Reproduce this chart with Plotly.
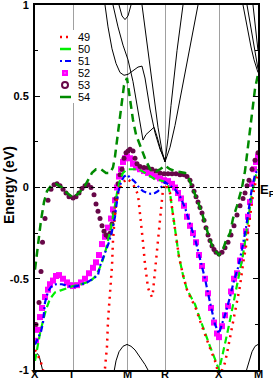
import plotly.graph_objects as go

# ---------------- data ----------------
kpath_pos = [0, 38, 92, 130, 184, 223]
kpath_labels = ["X", "Γ", "M", "R", "X", "M"]
ytick_vals = [-1, -0.5, 0, 0.5, 1]
ytick_text = ["-1", "-0.5", "0", "0.5", "1"]

# band 49 (red dotted)
b49_k = [0, 3, 6, 9, None,
         69, 70, 72, 73, 75, 77, 78, 80, 82, 84, 87, 92,
         96, 100, 103, 105, 107, 108, 110, 112, 113, 115, 117, 118, 119, 121, 123, 125, 127, 128, 130,
         135, 138, 141, 144, 148, 152, 156, 160, 165, 170, 175, 180, 184,
         187, 190, 193, 196, 199, 202, 205, 208, 212, 215, 218, 221, 223]
b49_e = [-0.89, -0.92, -0.96, -1.02, None,
         -1.03, -0.99, -0.87, -0.73, -0.58, -0.43, -0.29, -0.14, -0.06, -0.01, 0.02, 0.05,
         0.03, 0.0, -0.04, -0.14, -0.23, -0.3, -0.42, -0.49, -0.55, -0.58, -0.6, -0.57, -0.51, -0.42, -0.29, -0.17, -0.05, -0.01, 0.02,
         -0.03, -0.15, -0.27, -0.38, -0.48, -0.56, -0.61, -0.65, -0.73, -0.81, -0.88, -0.95, -1.03,
         -1.0, -0.96, -0.88, -0.8, -0.71, -0.63, -0.54, -0.42, -0.29, -0.16, -0.04, 0.04, 0.08]

# band 50 (light green dashed)
b50_k = [0, 2, 5, 8, 11, 15, 20, 25, 30, 35, 38,
         43, 49, 55, 60, 64, 67, 70, 73, 76, 79, 82, 85, 88, 92,
         98, 104, 110, 115, 120, 125, 130,
         133, 135, 138, 141, 144, 148, 152, 156, 160, 165, 170, 175, 180, 184,
         187, 190, 193, 196, 199, 202, 205, 208, 211, 214, 217, 220, 223]
b50_e = [-0.95, -0.88, -0.8, -0.73, -0.67, -0.61, -0.575, -0.565, -0.555, -0.545, -0.54,
         -0.535, -0.525, -0.515, -0.49, -0.45, -0.41, -0.36, -0.29, -0.22, -0.13, -0.03, 0.04, 0.08, 0.1,
         0.1, 0.1, 0.08, 0.06, 0.045, 0.04, 0.03,
         0.01, -0.03, -0.15, -0.27, -0.38, -0.48, -0.56, -0.6, -0.64, -0.72, -0.8, -0.87, -0.94, -1.0,
         -0.93, -0.86, -0.78, -0.7, -0.62, -0.54, -0.46, -0.37, -0.26, -0.14, -0.03, 0.05, 0.1]

# band 51 (blue dash-dot)
b51_k = [0, 3, 6, 8, 10, 13, 16, 21, 27, 33, 38,
         45, 52, 58, 63, 65, 68, 71, 74, 77, 80, 83, 86, 89, 92,
         96, 100, 104, 108, 112, 116, 120, 123, 126, 130,
         135, 140, 145, 150, 155, 160, 165, 170, 175, 180, 184,
         187, 191, 195, 199, 203, 207, 211, 214, 217, 220, 223]
b51_e = [-0.86, -0.82, -0.79, -0.74, -0.63, -0.57, -0.545, -0.53, -0.53, -0.54, -0.545,
         -0.535, -0.52, -0.5, -0.48, -0.43, -0.39, -0.34, -0.3, -0.24, -0.16, -0.03, 0.03, 0.06, 0.07,
         0.05, 0.03, 0.0, -0.02, -0.03, -0.035, -0.03, -0.02, 0.0, 0.03,
         0.01, -0.01, -0.05, -0.11, -0.2, -0.28, -0.39, -0.5, -0.63, -0.75, -0.8,
         -0.75, -0.68, -0.6, -0.51, -0.44, -0.34, -0.22, -0.12, 0.0, 0.07, 0.1]

# band 52 (magenta squares)
b52_k = [1, 3, 5, 7, 10, 13, 15, 18, 21, 24, 28, 32, 35, 38,
         42, 46, 50, 54, 58, 61, 64, 67, 70, 73, 76, 78, 80, 82, 84, 86, 88, 90, 92,
         95, 98, 101, 105, 109, 113, 117, 121, 125, 129,
         133, 137, 140, 143, 146, 149, 152, 155, 158, 161, 164, 167, 170, 173, 176, 179, 182, 184,
         187, 190, 193, 196, 199, 202, 205, 208, 211, 213, 215, 217, 219, 221, 223]
b52_e = [-0.84, -0.78, -0.71, -0.66, -0.6, -0.56, -0.53, -0.51, -0.485, -0.48, -0.5, -0.52, -0.535, -0.54,
         -0.535, -0.52, -0.5, -0.47, -0.44, -0.41, -0.37, -0.31, -0.27, -0.22, -0.17, -0.12, -0.07, 0.0, 0.06, 0.1, 0.14, 0.16, 0.17,
         0.16, 0.13, 0.11, 0.1, 0.09, 0.08, 0.07, 0.06, 0.05, 0.04,
         0.035, 0.02, 0.0, -0.03, -0.06, -0.1, -0.16, -0.21, -0.25, -0.3, -0.37, -0.43, -0.5, -0.58, -0.66, -0.74, -0.8, -0.82,
         -0.76, -0.7, -0.65, -0.57, -0.5, -0.47, -0.4, -0.32, -0.24, -0.16, -0.08, 0.02, 0.1, 0.14, 0.17]

# band 53 (purple circles)
b53_k = [1, 4, 6, 7.5, 10, 13, 16, 19, 22, 25, 28, 31, 34, 38,
         41, 44, 47, 50, 53, 56, 59, 61, 63, 65, 67, 69, 71, 73, 75, 77, 79, 81, 83, 85, 87, 89, 91, 93,
         95, 98, 100, 102, 105, 109, 113, 117, 121, 125, 129,
         133, 137, 141, 145, 149, 152, 155, 157, 159, 161, 163, 165, 167, 169, 171, 173, 175, 177, 179, 181, 184,
         187, 190, 193, 196, 199, 202, 205, 208, 210, 212, 214, 217, 220, 223]
b53_e = [-0.75, -0.63, -0.46, -0.3, -0.17, -0.07, -0.01, 0.015, 0.02, 0.01, -0.01, -0.03, -0.05, -0.058,
         -0.05, -0.03, -0.005, 0.01, 0.015, 0.0, -0.04, -0.09, -0.13, -0.17, -0.21, -0.24, -0.26, -0.27, -0.25, -0.2, -0.14, -0.06, 0.02, 0.07, 0.1, 0.16, 0.19, 0.2,
         0.21, 0.2, 0.16, 0.13, 0.115, 0.11, 0.11, 0.1, 0.09, 0.08, 0.075,
         0.075, 0.075, 0.075, 0.07, 0.07, 0.06, 0.04, 0.01, -0.02, -0.05, -0.08, -0.11, -0.14, -0.18, -0.22, -0.26, -0.29, -0.32, -0.34, -0.355, -0.365,
         -0.355, -0.33, -0.3, -0.26, -0.21, -0.15, -0.1, -0.06, -0.03, 0.01, 0.04, 0.1, 0.15, 0.19]

# band 54 (dark green dashed)
b54_k = [0, 2, 4, 6, 9, 12, 16, 21, 27, 32, 38,
         44, 50, 53, 57, 61, 66, 71, 75, 78, 80, 83, 86, 89, 92,
         95, 98, 101, 105, 107, 110, 115, 120, 125, 130,
         135, 140, 145, 150, 153, 156, 159, 163, 167, 171, 175, 179, 184,
         188, 191, 195, 198, 202, 207, 210, 213, 217, 220, 223]
b54_e = [-0.45, -0.36, -0.27, -0.18, -0.08, -0.02, 0.01, 0.02, 0.0, -0.03, -0.055,
         -0.03, 0.01, 0.04, 0.08, 0.1, 0.1, 0.08, 0.08, 0.11, 0.17, 0.3, 0.44, 0.56, 0.6,
         0.48, 0.37, 0.29, 0.23, 0.2, 0.16, 0.1, 0.085, 0.1, 0.12,
         0.1, 0.09, 0.085, 0.08, 0.06, 0.02, -0.03, -0.08, -0.14, -0.22, -0.29, -0.34, -0.37,
         -0.34, -0.29, -0.25, -0.17, -0.1, 0.0, 0.09, 0.23, 0.4, 0.54, 0.62]

# other (black) bands, one pair of arrays per branch
kb1_k = [0, 2, 4, 6, 8]
kb1_e = [-0.93, -0.91, -0.92, -0.96, -1.01]
kb2_k = [79, 81, 84, 88, 92, 96, 100, 105, 110, 114]
kb2_e = [-1.01, -0.95, -0.9, -0.87, -0.86, -0.87, -0.89, -0.93, -0.97, -1.01]
kb3_k = [211, 214, 217, 220, 223]
kb3_e = [-1.01, -0.95, -0.9, -0.87, -0.86]
kt1_k = [70, 73, 77, 81, 85, 89, 93, 98, 103, 107, 110, 115, 120, 125, 130]
kt1_e = [1.0, 0.88, 0.76, 0.68, 0.63, 0.615, 0.62, 0.64, 0.66, 0.665, 0.6, 0.43, 0.3, 0.21, 0.15]
kt2_k = [78, 83, 88, 93, 98, 103, 106, 108, 111, 115, 119, 122, 126, 130]
kt2_e = [1.0, 0.88, 0.78, 0.7, 0.58, 0.42, 0.3, 0.26, 0.29, 0.31, 0.33, 0.28, 0.2, 0.14]
kt3_k = [84, 87, 90, 93, 96]
kt3_e = [1.0, 0.94, 0.92, 0.94, 1.0]
kt4_k = [107, 111, 115, 119, 123, 127, 130]
kt4_e = [1.0, 0.83, 0.66, 0.5, 0.33, 0.2, 0.14]
kt5_k = [130, 133, 136, 139, 142, 148]
kt5_e = [0.14, 0.27, 0.45, 0.6, 0.75, 1.0]
kt6_k = [130, 135, 140, 145, 150, 155, 163]
kt6_e = [0.14, 0.22, 0.34, 0.48, 0.62, 0.76, 1.0]
kt7_k = [208, 212, 216, 219, 221, 223]
kt7_e = [1.0, 0.88, 0.77, 0.7, 0.66, 0.63]
kt8_k = [212, 215, 218, 221, 223]
kt8_e = [1.0, 0.9, 0.8, 0.7, 0.65]
kt9_k = [218, 220, 222, 223]
kt9_e = [1.0, 0.9, 0.8, 0.75]

legend_names = ["49", "50", "51", "52", "53", "54"]

# ---------------- style ----------------
C49, C50, C51, C52, C53, C54 = "#ff0000", "#00ee00", "#0000ff", "#ff00ff", "#670748", "#008b00"
FONT = "Liberation Sans"
W, H = 273, 382
ML, MR, MT, MB = 35, 15, 5, 12
PW, PH = W - ML - MR, H - MT - MB

fig = go.Figure()

black_k, black_e = [], []
for ks, es in [(kb1_k, kb1_e), (kb2_k, kb2_e), (kb3_k, kb3_e), (kt1_k, kt1_e), (kt2_k, kt2_e),
               (kt3_k, kt3_e), (kt4_k, kt4_e), (kt5_k, kt5_e), (kt6_k, kt6_e), (kt7_k, kt7_e),
               (kt8_k, kt8_e), (kt9_k, kt9_e)]:
    black_k += ks + [None]
    black_e += es + [None]
fig.add_trace(go.Scatter(x=black_k, y=black_e, mode="lines",
                         line=dict(color="black", width=1), showlegend=False, hoverinfo="skip"))

fig.add_trace(go.Scatter(x=b52_k, y=b52_e, mode="markers",
                         marker=dict(symbol="square", size=6, color=C52), showlegend=False))
fig.add_trace(go.Scatter(x=b53_k, y=b53_e, mode="markers",
                         marker=dict(symbol="circle", size=5, color=C53), showlegend=False))
fig.add_trace(go.Scatter(x=b50_k, y=b50_e, mode="lines",
                         line=dict(color=C50, width=2.2, dash="7px,4px"), showlegend=False))
fig.add_trace(go.Scatter(x=b49_k, y=b49_e, mode="lines", connectgaps=False,
                         line=dict(color=C49, width=2.5, dash="2px,5px"), showlegend=False))
fig.add_trace(go.Scatter(x=b51_k, y=b51_e, mode="lines",
                         line=dict(color=C51, width=2.2, dash="6px,3px,2px,3px"), showlegend=False))
fig.add_trace(go.Scatter(x=b54_k, y=b54_e, mode="lines",
                         line=dict(color=C54, width=2.5, dash="8px,5px"), showlegend=False))

shapes = []
annotations = []


def px_x(px):
    return (px - ML) / PW


def px_y(py):
    return (H - MB - py) / PH


# Fermi level
shapes.append(dict(type="line", xref="paper", yref="y", x0=0, x1=1, y0=0, y1=0,
                   line=dict(color="black", width=1, dash="4px,3px")))
annotations.append(dict(text="<b>E</b><sub><b>F</b></sub>", xref="paper", yref="paper",
                        x=px_x(259), y=px_y(190), xanchor="left", yanchor="middle", showarrow=False,
                        borderpad=0, font=dict(family=FONT, size=13, color="black")))

# k-path labels under the axis
for kv, lab in zip(kpath_pos, kpath_labels):
    annotations.append(dict(text="<b>" + lab + "</b>", xref="x", yref="paper", x=kv, y=0,
                            xanchor="center", yanchor="bottom", yshift=-11, showarrow=False,
                            borderpad=0, font=dict(family=FONT, size=11, color="black")))

# legend (drawn as layout decorations)
shapes.append(dict(type="rect", xref="paper", yref="paper", x0=px_x(55), x1=px_x(100),
                   y0=px_y(103), y1=px_y(30), fillcolor="white", line=dict(width=0), layer="above"))
styles = [("line", C49, "2px,4px", 2.5), ("line", C50, "solid", 2.5), ("line", C51, "2px,3px,7px", 2.2),
          ("square", C52, None, None), ("circle", C53, None, None), ("line", C54, "solid", 2.5)]
for i, (name, st) in enumerate(zip(legend_names, styles)):
    yc = 37 + 12 * i
    kind, col, dash, w = st
    if kind == "line":
        shapes.append(dict(type="line", xref="paper", yref="paper", x0=px_x(60), x1=px_x(71),
                           y0=px_y(yc), y1=px_y(yc), line=dict(color=col, width=w, dash=dash), layer="above"))
    elif kind == "square":
        shapes.append(dict(type="rect", xref="paper", yref="paper", x0=px_x(62), x1=px_x(68),
                           y0=px_y(yc + 3), y1=px_y(yc - 3), fillcolor=col, line=dict(width=0), layer="above"))
        shapes.append(dict(type="rect", xref="paper", yref="paper", x0=px_x(64.5), x1=px_x(65.5),
                           y0=px_y(yc + 0.5), y1=px_y(yc - 0.5), fillcolor="white", line=dict(width=0), layer="above"))
    else:
        shapes.append(dict(type="circle", xref="paper", yref="paper", x0=px_x(62), x1=px_x(68),
                           y0=px_y(yc + 3), y1=px_y(yc - 3), fillcolor="white",
                           line=dict(color=col, width=2), layer="above"))
    annotations.append(dict(text=name, xref="paper", yref="paper", x=px_x(77), y=px_y(yc),
                            xanchor="left", yanchor="middle", showarrow=False, borderpad=0,
                            font=dict(family=FONT, size=11, color="black")))

# y-axis title
annotations.append(dict(text="<b>Energy (eV)</b>", xref="paper", yref="paper", x=px_x(9), y=px_y(185),
                        xanchor="center", yanchor="middle", textangle=-90, showarrow=False,
                        font=dict(family=FONT, size=14, color="black")))

fig.update_layout(
    width=W, height=H,
    margin=dict(l=ML, r=MR, t=MT, b=MB, pad=0),
    paper_bgcolor="white", plot_bgcolor="white",
    showlegend=False, hovermode=False,
    shapes=shapes, annotations=annotations,
    xaxis=dict(range=[kpath_pos[0], kpath_pos[-1]], tickmode="array", tickvals=kpath_pos,
               ticktext=kpath_labels, ticks="", showticklabels=False, showgrid=True,
               gridcolor="#a0a0a0", gridwidth=1,
               zeroline=False, showline=True, linecolor="black", linewidth=2, mirror=True,
               fixedrange=True, automargin=False),
    yaxis=dict(range=[-1, 1], tickmode="array", tickvals=ytick_vals, ticktext=ytick_text,
               ticks="inside", ticklen=5, tickwidth=1, tickcolor="black", showgrid=False,
               minor=dict(ticks="inside", ticklen=3, tickwidth=1, tickcolor="black", dtick=0.25, showgrid=False),
               zeroline=False, showline=True, linecolor="black", linewidth=2, mirror="ticks",
               tickfont=dict(family=FONT, size=11, color="black", weight="bold"),
               ticklabelstandoff=2, ticklabeloverflow="allow", fixedrange=True, automargin=False),
)

fig.write_html("out.html", config={"displayModeBar": False, "staticPlot": True},
               post_script="document.body.style.margin='0px';document.body.style.padding='0px';")
